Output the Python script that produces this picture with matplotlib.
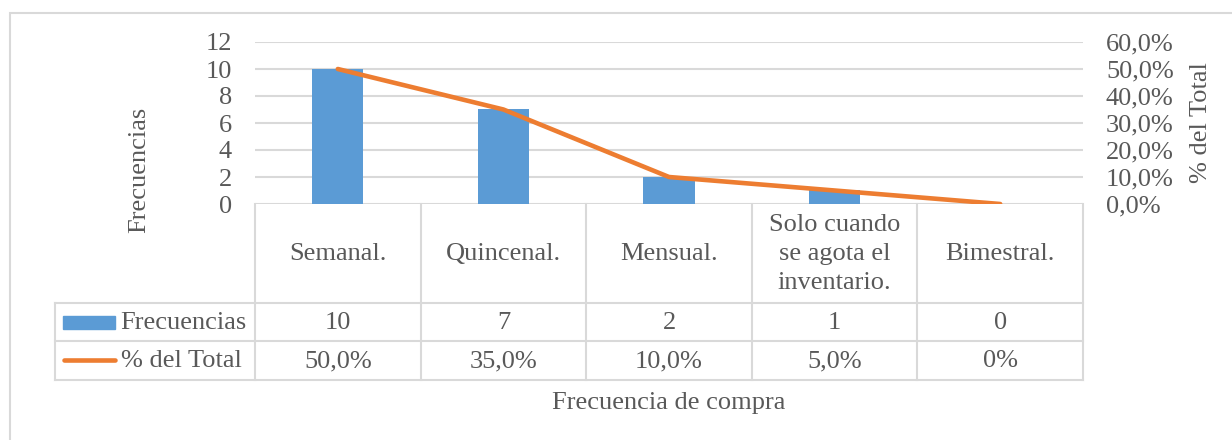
import matplotlib.pyplot as plt
import matplotlib.transforms as mtransforms
from matplotlib.lines import Line2D
from matplotlib.patches import Rectangle
from matplotlib.ticker import FuncFormatter

plt.rcParams['font.family'] = ['Liberation Serif', 'DejaVu Serif']
plt.rcParams['font.size'] = 19

categories = ["Semanal.", "Quincenal.", "Mensual.", "Solo cuando\nse agota el\ninventario.", "Bimestral."]
frecuencias = [10, 7, 2, 1, 0]
porcentaje = [50.0, 35.0, 10.0, 5.0, 0.0]
porcentaje_txt = ["50,0%", "35,0%", "10,0%", "5,0%", "0%"]

bar_color = "#5B9BD5"
line_color = "#ED7D31"
grid_color = "#D9D9D9"
text_color = "#595959"

W, H = 1232, 440
fig = plt.figure(figsize=(W / 100, H / 100), dpi=100)


def fx(px):
    return px / W


def fy(py):
    return 1 - py / H


# outer chart border
fig.patches.append(Rectangle((fx(10), -0.1), 1.2, fy(13) + 0.1, transform=fig.transFigure,
                             fill=False, edgecolor=grid_color, lw=1.5))

left_px, right_px, top_px, bot_px = 255, 1083, 42, 204
ax = fig.add_axes([fx(left_px), fy(bot_px), fx(right_px - left_px), (bot_px - top_px) / H])
x = list(range(len(categories)))
ax.bar(x, frecuencias, width=0.31, color=bar_color, zorder=2)
ax.set_xlim(-0.5, len(categories) - 0.5)
ax.set_ylim(0, 12)
ax.set_yticks(range(0, 13, 2))
ax.grid(axis='y', color=grid_color, lw=1.5, zorder=0)
ax.set_xticks([])
for s in ax.spines.values():
    s.set_visible(False)
ax.tick_params(axis='y', length=0, pad=16.5, colors=text_color, labelsize=19)

ax2 = ax.twinx()
ax2.plot(x, porcentaje, color=line_color, lw=3.3, solid_capstyle='round', zorder=3)
ax2.set_ylim(0, 60)
ax2.set_yticks(range(0, 61, 10))
ax2.yaxis.set_major_formatter(FuncFormatter(lambda v, p: f"{v:.1f}%".replace('.', ',')))
for s in ax2.spines.values():
    s.set_visible(False)
ax2.tick_params(axis='y', length=0, pad=16.5, colors=text_color, labelsize=19)

# data table below the plot
blend = mtransforms.blended_transform_factory(ax.transData, fig.transFigure)
rows_px = [204, 303, 341, 380]
legend_left = 55
for xb in [i - 0.5 for i in range(len(categories) + 1)]:
    fig.lines.append(Line2D([xb, xb], [fy(204), fy(380)], transform=blend, color=grid_color, lw=1.5))
for yr in rows_px[1:]:
    fig.lines.append(Line2D([fx(legend_left), fx(right_px)], [fy(yr), fy(yr)],
                            transform=fig.transFigure, color=grid_color, lw=1.5))
fig.lines.append(Line2D([fx(legend_left), fx(legend_left)], [fy(303), fy(380)],
                        transform=fig.transFigure, color=grid_color, lw=1.5))

for i, cat in enumerate(categories):
    fig.text(i, fy(254), cat, transform=blend, ha='center', va='center', color=text_color,
             linespacing=1.4)
    fig.text(i, fy(323), str(frecuencias[i]), transform=blend, ha='center', va='center', color=text_color)
    fig.text(i, fy(361), porcentaje_txt[i], transform=blend, ha='center', va='center', color=text_color)

# legend keys in the table
fig.patches.append(Rectangle((fx(63), fy(329)), fx(52), 13 / H, transform=fig.transFigure,
                             color=bar_color))
fig.text(fx(120), fy(323), "Frecuencias", ha='left', va='center', color=text_color)
fig.lines.append(Line2D([fx(64), fx(115)], [fy(360), fy(360)], transform=fig.transFigure,
                        color=line_color, lw=3.3, solid_capstyle='round'))
fig.text(fx(121), fy(361), "% del Total", ha='left', va='center', color=text_color)

# axis titles
fig.text(fx(139), fy(170), "Frecuencias", rotation=90, ha='center', va='center', color=text_color)
fig.text(fx(1201), fy(123), "% del Total", rotation=90, ha='center', va='center', color=text_color)
fig.text(fx(669), fy(403), "Frecuencia de compra", ha='center', va='center', color=text_color)

fig.savefig("out.png", dpi=100)
